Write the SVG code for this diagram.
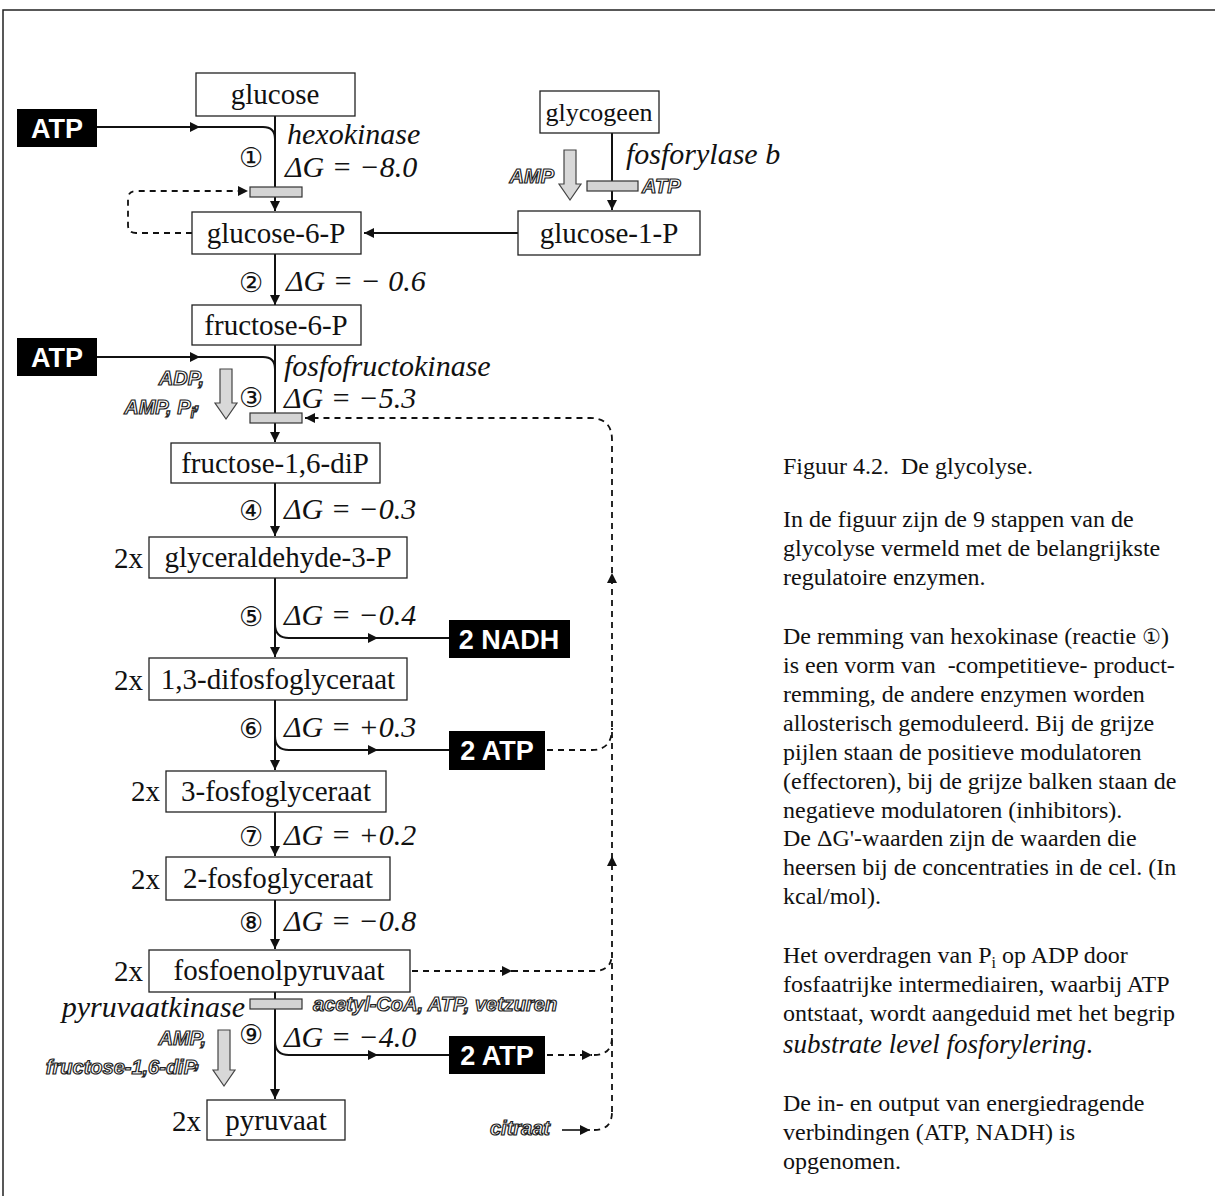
<svg xmlns="http://www.w3.org/2000/svg" width="1215" height="1196" viewBox="0 0 1215 1196">
<defs>
<marker id="ah" markerUnits="userSpaceOnUse" markerWidth="11" markerHeight="10" refX="10" refY="5" orient="auto">
<path d="M0,0 L10,5 L0,10 z" fill="#111"/>
</marker>
</defs>
<style>
.box{fill:#fff;stroke:#222;stroke-width:1.3}
.blk{fill:#000}
.lbl{font-family:"Liberation Serif",serif;font-size:29px;fill:#111;text-anchor:middle}
.two{font-family:"Liberation Serif",serif;font-size:29px;fill:#111;text-anchor:end}
.it{font-family:"Liberation Serif",serif;font-style:italic;font-size:30px;fill:#111}
.num{font-family:"DejaVu Sans",sans-serif;font-size:27px;fill:#111;text-anchor:middle}
.wt{font-family:"Liberation Sans",sans-serif;font-weight:bold;font-size:27px;fill:#fff;text-anchor:middle}
.ol{font-family:"Liberation Sans",sans-serif;font-weight:bold;font-style:italic;font-size:20px;fill:#fff;stroke:#222;stroke-width:1.2}
.bar{fill:#d4d4d4;stroke:#333;stroke-width:1.2}
.garr{fill:#d8d8d8;stroke:#444;stroke-width:1.2}
.ln{fill:none;stroke:#111;stroke-width:2}
.ds{fill:none;stroke:#111;stroke-width:1.8;stroke-dasharray:6 5}
.txt{font-family:"Liberation Serif",serif;font-size:24px;fill:#111}
</style>
<rect width="1215" height="1196" fill="#fff"/>
<path d="M3,1196 V10 H1215" fill="none" stroke="#222" stroke-width="1.5"/>

<g id="connectors">
<path class="ln" d="M275,116 V211" marker-end="url(#ah)"/>
<path class="ln" d="M275,254 V305" marker-end="url(#ah)"/>
<path class="ln" d="M275,345 V442" marker-end="url(#ah)"/>
<path class="ln" d="M275,483 V536" marker-end="url(#ah)"/>
<path class="ln" d="M275,578 V657" marker-end="url(#ah)"/>
<path class="ln" d="M275,700 V770" marker-end="url(#ah)"/>
<path class="ln" d="M275,812 V856" marker-end="url(#ah)"/>
<path class="ln" d="M275,900 V949" marker-end="url(#ah)"/>
<path class="ln" d="M275,992 V1099" marker-end="url(#ah)"/>
<path class="ln" d="M97,127 H200" marker-end="url(#ah)"/>
<path class="ln" d="M198,127 H263 Q275,127 275,139"/>
<path class="ln" d="M97,357 H200" marker-end="url(#ah)"/>
<path class="ln" d="M198,357 H263 Q275,357 275,369"/>
<path class="ln" d="M275,624 Q275,638 289,638 H378" marker-end="url(#ah)"/>
<path class="ln" d="M376,638 H449"/>
<path class="ln" d="M275,736 Q275,750 289,750 H378" marker-end="url(#ah)"/>
<path class="ln" d="M376,750 H449"/>
<path class="ln" d="M275,1041 Q275,1055 289,1055 H378" marker-end="url(#ah)"/>
<path class="ln" d="M376,1055 H449"/>
<path class="ln" d="M612,133 V210" marker-end="url(#ah)"/>
<path class="ln" d="M518,233 H364" marker-end="url(#ah)"/>
<path class="ds" d="M192,233 H136 Q128,233 128,225 V199 Q128,191 136,191 H248" marker-end="url(#ah)"/>
<path class="ds" d="M612,1112 V440 Q612,418 590,418 H305" marker-end="url(#ah)"/>
<path class="ds" d="M547,750 H592 Q612,750 612,728"/>
<path class="ds" d="M412,971 H512" marker-end="url(#ah)"/>
<path class="ds" d="M512,971 H594 Q612,971 612,953"/>
<path class="ds" d="M547,1055 H592" marker-end="url(#ah)"/>
<path class="ds" d="M594,1055 Q612,1055 612,1037"/>
<path class="ln" d="M562,1130 H590" marker-end="url(#ah)" style="stroke-width:1.6"/>
<path class="ds" d="M594,1130 Q612,1130 612,1112"/>
<path d="M612,573 l-5,10 h10 z" fill="#111"/>
<path d="M612,856 l-5,10 h10 z" fill="#111"/>
</g>

<g id="bars">
<rect class="bar" x="250" y="187" width="52" height="10"/>
<rect class="bar" x="587" y="181" width="51" height="10"/>
<rect class="bar" x="250" y="413" width="52" height="10"/>
<rect class="bar" x="250" y="999" width="52" height="10"/>
</g>
<g id="gray-arrows">
<path class="garr" d="M564,150 H576 V184 H581 L570,200 L559,184 H564 Z"/>
<path class="garr" d="M220,369 H232 V403 H237 L226,419 L215,403 H220 Z"/>
<path class="garr" d="M218,1030 H230 V1070 H235 L224,1086 L213,1070 H218 Z"/>
</g>
<g id="modulator-labels">
<text class="ol" x="554" y="183" text-anchor="end">AMP</text>
<text class="ol" x="642" y="193">ATP</text>
<text class="ol" x="204" y="385" text-anchor="end">ADP,</text>
<text class="ol" x="200" y="414" text-anchor="end">AMP, P<tspan font-size="14" dy="4">i</tspan><tspan dy="-9">,</tspan></text>
<text class="ol" x="313" y="1011">acetyl-CoA, ATP, vetzuren</text>
<text class="ol" x="206" y="1045" text-anchor="end">AMP,</text>
<text class="ol" x="200" y="1074" text-anchor="end">fructose-1,6-diP<tspan dy="-6">,</tspan></text>
<text class="ol" x="490" y="1135">citraat</text>
</g>

<g id="enzyme-labels">
<text class="it" x="287" y="144">hexokinase</text>
<text class="it" x="285" y="177">ΔG = −8.0</text>
<text class="it" x="626" y="164">fosforylase b</text>
<text class="it" x="286" y="291">ΔG = − 0.6</text>
<text class="it" x="284" y="376">fosfofructokinase</text>
<text class="it" x="284" y="408">ΔG = −5.3</text>
<text class="it" x="284" y="519">ΔG = −0.3</text>
<text class="it" x="284" y="625">ΔG = −0.4</text>
<text class="it" x="284" y="737">ΔG = +0.3</text>
<text class="it" x="284" y="845">ΔG = +0.2</text>
<text class="it" x="284" y="931">ΔG = −0.8</text>
<text class="it" x="245" y="1017" text-anchor="end">pyruvaatkinase</text>
<text class="it" x="284" y="1047">ΔG = −4.0</text>
</g>
<g id="step-numbers">
<text class="num" x="251" y="167">①</text>
<text class="num" x="251" y="292">②</text>
<text class="num" x="251" y="407">③</text>
<text class="num" x="251" y="520">④</text>
<text class="num" x="251" y="626">⑤</text>
<text class="num" x="251" y="738">⑥</text>
<text class="num" x="251" y="846">⑦</text>
<text class="num" x="251" y="932">⑧</text>
<text class="num" x="251" y="1044">⑨</text>
</g>

<g id="atp-in-1"><rect class="blk" x="17" y="109" width="80" height="38"/><text class="wt" x="57" y="138">ATP</text></g>
<g id="atp-in-2"><rect class="blk" x="17" y="338" width="80" height="38"/><text class="wt" x="57" y="367">ATP</text></g>
<g id="nadh-out"><rect class="blk" x="449" y="620" width="121" height="38"/><text class="wt" x="509" y="649">2 NADH</text></g>
<g id="atp-out-6"><rect class="blk" x="449" y="731" width="96" height="39"/><text class="wt" x="497" y="760">2 ATP</text></g>
<g id="atp-out-9"><rect class="blk" x="449" y="1036" width="96" height="38"/><text class="wt" x="497" y="1065">2 ATP</text></g>

<g id="glucose"><rect class="box" x="196" y="73" width="159" height="43"/><text class="lbl" x="275" y="104">glucose</text></g>
<g id="glycogeen"><rect class="box" x="540" y="91" width="119" height="42"/><text class="lbl" x="599" y="121" style="font-size:26px">glycogeen</text></g>
<g id="glucose-6-P"><rect class="box" x="192" y="212" width="169" height="42"/><text class="lbl" x="276" y="243">glucose-6-P</text></g>
<g id="glucose-1-P"><rect class="box" x="518" y="211" width="182" height="44"/><text class="lbl" x="609" y="243">glucose-1-P</text></g>
<g id="fructose-6-P"><rect class="box" x="192" y="305" width="169" height="40"/><text class="lbl" x="276" y="335">fructose-6-P</text></g>
<g id="fructose-1-6-diP"><rect class="box" x="171" y="443" width="209" height="40"/><text class="lbl" x="275" y="473">fructose-1,6-diP</text></g>
<g id="glyceraldehyde-3-P"><text class="two" x="143" y="568">2x</text><rect class="box" x="149" y="537" width="258" height="41"/><text class="lbl" x="278" y="567">glyceraldehyde-3-P</text></g>
<g id="difosfoglyceraat"><text class="two" x="143" y="690">2x</text><rect class="box" x="149" y="658" width="258" height="42"/><text class="lbl" x="278" y="689">1,3-difosfoglyceraat</text></g>
<g id="fosfoglyceraat-3"><text class="two" x="160" y="801">2x</text><rect class="box" x="166" y="771" width="220" height="41"/><text class="lbl" x="276" y="801">3-fosfoglyceraat</text></g>
<g id="fosfoglyceraat-2"><text class="two" x="160" y="889">2x</text><rect class="box" x="166" y="857" width="224" height="43"/><text class="lbl" x="278" y="888">2-fosfoglyceraat</text></g>
<g id="fosfoenolpyruvaat"><text class="two" x="143" y="981">2x</text><rect class="box" x="149" y="950" width="261" height="42"/><text class="lbl" x="279" y="980">fosfoenolpyruvaat</text></g>
<g id="pyruvaat"><text class="two" x="201" y="1131">2x</text><rect class="box" x="207" y="1100" width="138" height="40"/><text class="lbl" x="276" y="1130">pyruvaat</text></g>

<g id="caption" class="txt">
<text x="783" y="474">Figuur 4.2.&#160; De glycolyse.</text>
<text x="783" y="527">In de figuur zijn de 9 stappen van de</text>
<text x="783" y="556">glycolyse vermeld met de belangrijkste</text>
<text x="783" y="585">regulatoire enzymen.</text>
<text x="783" y="644">De remming van hexokinase (reactie <tspan font-family="DejaVu Sans" font-size="21">①</tspan>)</text>
<text x="783" y="673">is een vorm van&#160; -competitieve- product-</text>
<text x="783" y="702">remming, de andere enzymen worden</text>
<text x="783" y="731">allosterisch gemoduleerd. Bij de grijze</text>
<text x="783" y="760">pijlen staan de positieve modulatoren</text>
<text x="783" y="789">(effectoren), bij de grijze balken staan de</text>
<text x="783" y="818">negatieve modulatoren (inhibitors).</text>
<text x="783" y="846">De ΔG'-waarden zijn de waarden die</text>
<text x="783" y="875">heersen bij de concentraties in de cel. (In</text>
<text x="783" y="904">kcal/mol).</text>
<text x="783" y="963">Het overdragen van P<tspan font-size="16" dy="5">i</tspan><tspan dy="-5"> op ADP door</tspan></text>
<text x="783" y="992">fosfaatrijke intermediairen, waarbij ATP</text>
<text x="783" y="1021">ontstaat, wordt aangeduid met het begrip</text>
<text x="783" y="1053" font-style="italic" font-size="27">substrate level fosforylering<tspan font-style="normal">.</tspan></text>
<text x="783" y="1111">De in- en output van energiedragende</text>
<text x="783" y="1140">verbindingen (ATP, NADH) is</text>
<text x="783" y="1169">opgenomen.</text>
</g>
</svg>
